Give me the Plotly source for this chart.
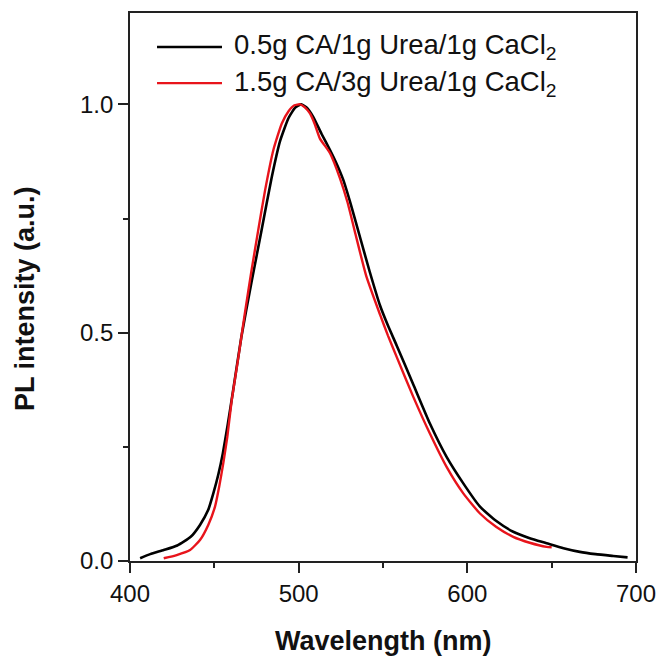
import plotly.graph_objects as go

# Series 1: 0.5g CA / 1g Urea / 1g CaCl2 (black)
wl_black = [406, 412, 420, 428, 436, 441.5, 446.4, 449.4, 452.4, 455, 458, 461,
            466, 472, 478, 484, 489, 494, 498, 501.5, 505, 508.7,
            513.6, 518.6, 522.5, 526.4, 531, 536.3, 542, 548.2, 553, 558.1, 567.9, 577.8,
            587.7, 597.6, 607.5, 617, 627.2, 637, 647, 657, 666.7, 676, 686.5, 695]
pl_black = [0.006, 0.015, 0.024, 0.034, 0.053, 0.079, 0.112, 0.148, 0.19, 0.235, 0.3, 0.37,
            0.49, 0.61, 0.724, 0.84, 0.92, 0.97, 0.993, 1.0, 0.992, 0.972,
            0.935, 0.9, 0.87, 0.835, 0.78, 0.71, 0.635, 0.56, 0.515, 0.472, 0.387, 0.301,
            0.228, 0.170, 0.119, 0.088, 0.064, 0.050, 0.039, 0.028, 0.020, 0.015, 0.011, 0.008]

# Series 2: 1.5g CA / 3g Urea / 1g CaCl2 (red)
wl_red = [420, 427.7, 435.6, 441.5, 446.4, 450.4, 452.9, 455.3, 457.7, 460.3,
          464, 468, 472, 476, 480, 485, 490, 494, 497.5, 500.8, 503.5, 506.7,
          509.5, 512.6, 518.6, 524.5, 529, 533.4, 540, 548.2, 553, 558.1, 567.9, 577.8,
          587.7, 597.6, 607.5, 617, 627.2, 637, 647, 650]
pl_red = [0.006, 0.013, 0.024, 0.046, 0.079, 0.119, 0.163, 0.214, 0.272, 0.352,
          0.44, 0.54, 0.635, 0.724, 0.81, 0.9, 0.958, 0.985, 0.998, 1.0, 0.994, 0.98,
          0.957, 0.925, 0.893, 0.838, 0.785, 0.72, 0.625, 0.54, 0.493, 0.447, 0.360, 0.279,
          0.206, 0.148, 0.104, 0.075, 0.053, 0.040, 0.031, 0.030]

name_black = "0.5g CA/1g Urea/1g CaCl<sub>2</sub>"
name_red = "1.5g CA/3g Urea/1g CaCl<sub>2</sub>"
color_black = "#000000"
color_red = "#e8141b"

x_tickvals = [400, 500, 600, 700]
y_tickvals = [0.0, 0.5, 1.0]
y_ticktext = ["0.0", "0.5", "1.0"]

FONT = "Arial, Liberation Sans, sans-serif"

fig = go.Figure()
fig.add_trace(go.Scatter(x=wl_black, y=pl_black, mode="lines", name=name_black, showlegend=False,
                         line=dict(color=color_black, width=2.6, shape="spline", smoothing=0.5)))
fig.add_trace(go.Scatter(x=wl_red, y=pl_red, mode="lines", name=name_red, showlegend=False,
                         line=dict(color=color_red, width=2.4, shape="spline", smoothing=0.5)))

axis_common = dict(showline=True, linecolor="#222", linewidth=1.6, mirror=True,
                   showgrid=False, zeroline=False, ticks="outside", ticklen=10,
                   tickwidth=1.5, tickcolor="#222", automargin=False,
                   tickfont=dict(family=FONT, size=24, color="#111"))

fig.update_xaxes(range=[400, 700], tickvals=x_tickvals,
                 minor=dict(dtick=50, ticks="outside", ticklen=5, tickwidth=1.5, tickcolor="#222"),
                 **axis_common)
fig.update_yaxes(range=[0, 1.2], tickvals=y_tickvals, ticktext=y_ticktext,
                 minor=dict(dtick=0.25, ticks="outside", ticklen=5, tickwidth=1.5, tickcolor="#222"),
                 **axis_common)

# axis titles
fig.add_annotation(text="<b>Wavelength (nm)</b>", xref="paper", yref="paper",
                   x=0.5, y=-0.146, xanchor="center", yanchor="middle", showarrow=False,
                   font=dict(family=FONT, size=27, color="#111"))
fig.add_annotation(text="<b>PL intensity (a.u.)</b>", xref="paper", yref="paper",
                   x=-0.2075, y=0.478, xanchor="center", yanchor="middle", showarrow=False,
                   textangle=-90, font=dict(family=FONT, size=27, color="#111"))

# legend (drawn manually to match the long line samples)
legend_items = [(name_black, color_black, 2.6, 0.938), (name_red, color_red, 2.4, 0.872)]
for label, col, w, ly in legend_items:
    fig.add_shape(type="line", xref="paper", yref="paper", x0=0.0534, x1=0.1818, y0=ly, y1=ly,
                  line=dict(color=col, width=w))
    fig.add_annotation(text=label, xref="paper", yref="paper", x=0.2016, y=ly,
                       xanchor="left", yanchor="middle", showarrow=False,
                       font=dict(family=FONT, size=27.5, color="#111"))

fig.update_layout(width=660, height=657,
                  margin=dict(l=130, r=24, t=13, b=96),
                  paper_bgcolor="white", plot_bgcolor="white",
                  showlegend=False,
                  font=dict(family=FONT))

fig.write_html("out.html", config={"displayModeBar": False},
               post_script="document.body.style.margin='0';document.body.style.overflow='hidden';")
